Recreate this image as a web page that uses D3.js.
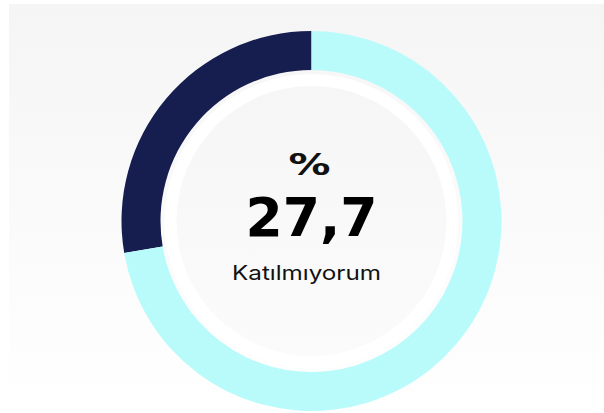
<!DOCTYPE html>
<html><head><meta charset="utf-8">
<script src="https://cdn.jsdelivr.net/npm/d3@7"></script>
<style>html,body{margin:0;padding:0;background:#fff;}</style>
</head><body>
<script>
const categories = ["Katılmıyorum", "Diğer"];
const values = [27.7, 72.3];
const colors = ["#161d4f", "#b9fbfb"];
const centerPrefix = "%";
const centerValue = "27,7";
const centerLabel = "Katılmıyorum";

const W = 604, H = 413;
const svg = d3.select("body").append("svg").attr("width", W).attr("height", H);
const defs = svg.append("defs");
const g1 = defs.append("linearGradient").attr("id","bg").attr("x1",0).attr("y1",0).attr("x2",0).attr("y2",1);
g1.append("stop").attr("offset","0%").attr("stop-color","#f5f5f5");
g1.append("stop").attr("offset","100%").attr("stop-color","#ffffff");
svg.append("rect").attr("x",9).attr("y",4).attr("width",W-9).attr("height",H-4).attr("fill","url(#bg)");

const cx = 311.5, cy = 221;
const g = svg.append("g").attr("transform",`translate(${cx},${cy})`);

// inner decorations
g.append("circle").attr("r",147).attr("fill","#ffffff");
const g2 = defs.append("linearGradient").attr("id","inner").attr("x1",0).attr("y1",0).attr("x2",0).attr("y2",1);
g2.append("stop").attr("offset","0%").attr("stop-color","#f6f6f6");
g2.append("stop").attr("offset","100%").attr("stop-color","#fbfbfb");
g.append("circle").attr("r",135).attr("fill","url(#inner)");

const total = d3.sum(values);
const angle = d3.scaleLinear().domain([0,total]).range([0, 2*Math.PI]);
const arc = d3.arc().innerRadius(151).outerRadius(190);
// first slice goes counter-clockwise from top
const slices = [
  {startAngle: -angle(values[0]), endAngle: 0, i:0},
  {startAngle: 0, endAngle: angle(values[1]), i:1}
];
g.selectAll("path.slice").data(slices).join("path").attr("class","slice")
  .attr("d", arc).attr("fill", d => colors[d.i]);

g.append("text").attr("x",-2).attr("y",-46).attr("text-anchor","middle")
  .attr("font-family","DejaVu Sans").attr("font-weight","bold").attr("font-size",30).attr("fill","#111")
  .attr("textLength",42).attr("lengthAdjust","spacingAndGlyphs").text(centerPrefix);
g.append("text").attr("x",0).attr("y",15).attr("text-anchor","middle")
  .attr("font-family","DejaVu Sans").attr("font-weight","bold").attr("font-size",54)
  .attr("fill","#000").attr("textLength",132).attr("lengthAdjust","spacingAndGlyphs").text(centerValue);
g.append("text").attr("x",-5).attr("y",59).attr("text-anchor","middle")
  .attr("font-family","Inter").attr("font-size",20).attr("fill","#111")
  .attr("textLength",149).attr("lengthAdjust","spacingAndGlyphs").text(centerLabel);
</script>
</body></html>
